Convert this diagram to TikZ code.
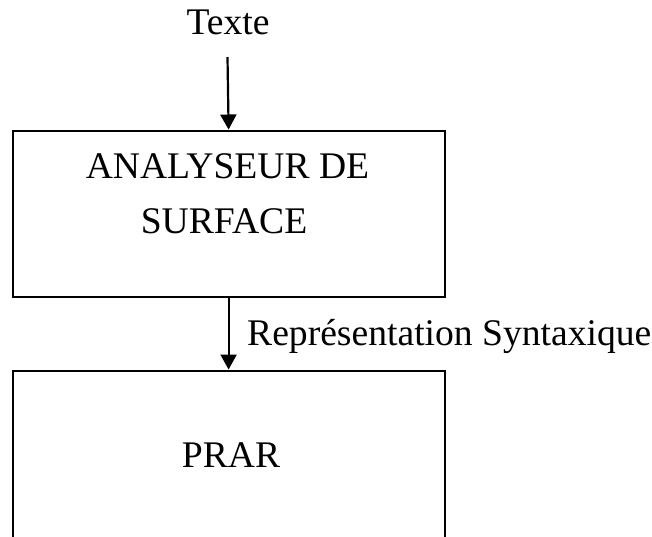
\documentclass[tikz,border=0pt]{standalone}
\usepackage{fontspec}
\setmainfont{Liberation Serif}
\usetikzlibrary{arrows.meta}
\begin{document}
\begin{tikzpicture}[x=1pt,y=-1pt,
  box/.style={draw,line width=2.2pt,inner sep=0pt,anchor=north west},
  arr/.style={line width=2.2pt,-{Triangle[width=16pt,length=15pt]}},
  lbl/.style={font=\fontsize{37.6}{45}\selectfont,inner sep=0pt,anchor=base}]
  \clip (0,0) rectangle (652,536);
  \useasboundingbox (0,0) rectangle (652,536);
  % blocks
  \node[box,minimum width=432pt,minimum height=166.5pt] (surf) at (11.5,129.5) {};
  \node[box,minimum width=432pt,minimum height=200pt] (prar) at (11.5,369.5) {};
  % texts
  \node[lbl] (texte) at (228,34) {Texte};
  \node[lbl] (l1) at (227.5,178) {ANALYSEUR DE};
  \node[lbl] (l2) at (224,233) {SURFACE};
  \node[lbl] (l3) at (231,467) {PRAR};
  \node[lbl,anchor=base west] (rep) at (247,345) {Représentation Syntaxique};
  % connectors
  \coordinate (in) at (227.5,57);
  \draw[arr] (in) -- (surf.north);
  \draw[arr] (surf.south) -- (prar.north);
\end{tikzpicture}
\end{document}
